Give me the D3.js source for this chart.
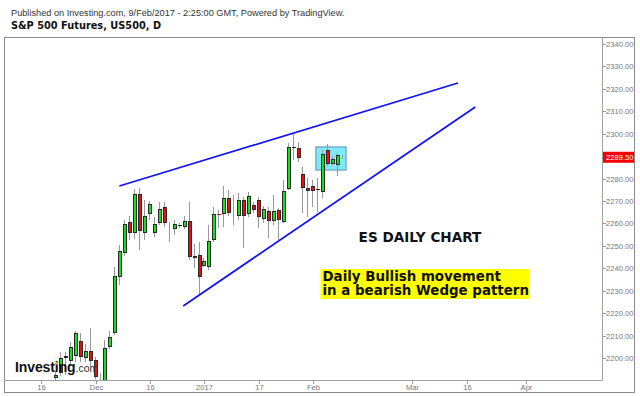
<!DOCTYPE html>
<html><head><meta charset="utf-8">
<script src="https://cdn.jsdelivr.net/npm/d3@7"></script>
<style>html,body{margin:0;padding:0;background:#fff;}svg{display:block}</style>
</head><body>
<svg id="c" width="640" height="396"></svg>
<script>
// ---- data ----
const dates = ["2016-11-21","2016-11-22","2016-11-23","2016-11-24","2016-11-25","2016-11-28","2016-11-29","2016-11-30",
"2016-12-01","2016-12-02","2016-12-05","2016-12-06","2016-12-07","2016-12-08","2016-12-09","2016-12-12","2016-12-13","2016-12-14","2016-12-15","2016-12-16",
"2016-12-19","2016-12-20","2016-12-21","2016-12-22","2016-12-23","2016-12-26","2016-12-27","2016-12-28","2016-12-29","2016-12-30",
"2017-01-02","2017-01-03","2017-01-04","2017-01-05","2017-01-06","2017-01-09","2017-01-10","2017-01-11","2017-01-12","2017-01-13",
"2017-01-16","2017-01-17","2017-01-18","2017-01-19","2017-01-20","2017-01-23","2017-01-24","2017-01-25","2017-01-26","2017-01-27",
"2017-01-30","2017-01-31","2017-02-01","2017-02-02","2017-02-03","2017-02-06","2017-02-07","2017-02-08","2017-02-09"];
const opens = [2191.1,2193.3,2200.9,2198.7,2200.9,2207.6,2200.0,2203.1,
2199.1,2190.9,2189.0,2204.9,2211.2,2236.1,2246.8,2260.7,2255.7,2273.1,2255.7,2264.2,
2255.7,2260.2,2267.3,2258.0,2257.5,2259.1,2258.4,2261.1,2245.5,2245.9,
2241.0,2240.6,2252.6,2264.4,2264.2,2271.4,2264.2,2263.3,2270.5,2264.2,
2268.2,2270.5,2262.0,2265.6,2261.1,2266.0,2260.7,2275.4,2293.9,2293.6,
2282.1,2275.8,2276.7,2275.2,2274.0,2292.7,2286.5,2286.1,2290.1];
const highs = [2194.2,2202.7,2202.7,2207.2,2212.1,2211.2,2206.3,2213.4,
2200.5,2193.3,2208.0,2212.1,2240.6,2250.4,2261.5,2263.3,2275.4,2275.8,2270.5,2270.0,
2262.9,2269.6,2269.6,2260.7,2261.5,2260.2,2263.3,2269.6,2250.8,2251.7,
2244.6,2259.3,2267.3,2266.0,2276.7,2274.9,2272.7,2273.6,2271.8,2274.0,
2269.6,2271.8,2267.8,2267.3,2272.7,2266.9,2279.4,2295.9,2299.9,2296.3,
2285.2,2280.3,2279.4,2280.3,2292.7,2295.4,2290.1,2291.4,2290.7];
const lows = [2189.8,2192.0,2192.5,2196.9,2198.2,2198.2,2198.2,2196.4,
2190.7,2189.5,2188.0,2204.0,2210.3,2232.6,2245.5,2252.6,2253.1,2248.2,2252.6,2261.5,
2254.0,2259.3,2258.4,2251.7,2254.9,2258.0,2257.5,2243.7,2240.1,2228.1,
2240.6,2239.3,2251.7,2258.0,2258.4,2263.3,2259.3,2261.5,2249.1,2262.9,
2264.7,2258.0,2260.2,2253.6,2259.3,2252.6,2260.2,2274.9,2288.3,2287.4,
2264.7,2262.9,2267.3,2265.1,2271.4,2285.6,2285.6,2281.2,2288.9];
const closes = [2192.3,2200.0,2200.0,2204.9,2211.2,2200.5,2203.2,2198.7,
2191.6,2191.5,2204.3,2209.4,2236.6,2247.7,2259.8,2255.7,2273.1,2256.6,2263.3,2268.7,
2259.8,2266.5,2260.2,2258.6,2259.8,2259.1,2261.1,2245.1,2244.8,2236.1,
2243.3,2252.2,2264.2,2264.0,2271.4,2264.6,2263.6,2270.5,2263.3,2272.2,
2266.0,2262.9,2266.4,2261.1,2265.6,2261.5,2274.5,2294.1,2293.9,2289.2,
2275.8,2274.5,2274.5,2275.2,2291.0,2286.5,2288.7,2290.5,2289.5];
const tickDates = ["2016-11-16","2016-12-01","2016-12-16","2017-01-02","2017-01-17","2017-02-01","2017-03-01","2017-03-16","2017-04-03"];
const tickLabels = ["16","Dec","16","2017","17","Feb","Mar","16","Apr"];
const priceTicks = [2200,2210,2220,2230,2240,2250,2260,2270,2280,2300,2310,2320,2330,2340];
const lastPrice = 2289.50;
// drawings (x in trading-day index from 16 Nov 2016, y in price)
const upperX = [15.8, 84.2], upperY = [2276.7, 2322.6];
const lowerX = [28.7, 87.7], lowerY = [2223.2, 2311.9];
const boxX = [55.5, 61.6], boxY = [2283.8, 2294.1];

// ---- helpers ----
function wd(s){
  const base = Date.UTC(2016,10,16);
  const t = Date.parse(s+"T00:00:00Z");
  let n = 0;
  for (let d = base; d < t; d += 86400000){
    const g = new Date(d).getUTCDay();
    if (g !== 0 && g !== 6) n++;
  }
  return n;
}

const svg = d3.select("#c");
const L = 4, R = 602, T = 37, B = 380;
const x = d3.scaleLinear().domain([-7.5, 113.3]).range([L, R]);
const y = d3.scaleLinear().domain([2190.2, 2343.12]).range([B, T]);

svg.append("rect").attr("width",640).attr("height",396).attr("fill","#fff");

// header
svg.append("text").attr("x",11).attr("y",15.6)
  .attr("font-family","Liberation Sans, Arial, sans-serif").attr("font-size",9.2).attr("fill","#333")
  .text("Published on Investing.com, 9/Feb/2017 - 2:25:00 GMT, Powered by TradingView.");
svg.append("text").attr("x",11).attr("y",28.5)
  .attr("font-family","DejaVu Sans, sans-serif").attr("font-weight","bold").attr("font-size",9.8).attr("fill","#111")
  .text("S&P 500 Futures, US500, D");

// clip
svg.append("clipPath").attr("id","pc").append("rect").attr("x",L).attr("y",T).attr("width",R-L).attr("height",B-T);
const plot = svg.append("g").attr("clip-path","url(#pc)");

// box
plot.append("rect")
  .attr("x", x(boxX[0])).attr("y", y(boxY[1]))
  .attr("width", x(boxX[1]) - x(boxX[0])).attr("height", y(boxY[0]) - y(boxY[1]))
  .attr("fill","#80e9f7").attr("stroke","#6d9fc8").attr("stroke-width",1.2);

// candles
const candles = dates.map((d,k)=>({i:wd(d), o:opens[k], h:highs[k], l:lows[k], c:closes[k]}));
const cg = plot.append("g");
candles.forEach(d=>{
  const c = Math.round(x(d.i));
  cg.append("line").attr("x1",c-0.5).attr("x2",c-0.5)
    .attr("y1",Math.round(y(d.h))).attr("y2",Math.round(y(d.l)))
    .attr("stroke","#999").attr("stroke-width",1);
  const top = Math.round(y(Math.max(d.o,d.c))), bot = Math.round(y(Math.min(d.o,d.c)));
  if (bot - top < 1 || d.o === d.c){
    cg.append("line").attr("x1",c-2).attr("x2",c+2).attr("y1",top+0.5).attr("y2",top+0.5)
      .attr("stroke", d.o===d.c ? "#222" : (d.c>d.o?"#00b000":"#e00000")).attr("stroke-width",1);
  } else {
    cg.append("rect").attr("x",c-1.5).attr("y",top+0.5).attr("width",3).attr("height",bot-top-1)
      .attr("fill", d.c>d.o ? "#18e018" : "#ee0c0c").attr("stroke","#2a2a2a").attr("stroke-width",1);
  }
});

// wedge lines
const line = d3.line().x(d=>x(d[0])).y(d=>y(d[1]));
plot.append("path").attr("d", line(d3.zip(upperX, upperY))).attr("stroke","#1010ff").attr("stroke-width",1.7).attr("fill","none");
plot.append("path").attr("d", line(d3.zip(lowerX, lowerY))).attr("stroke","#1010ff").attr("stroke-width",1.7).attr("fill","none");

// frame
svg.append("rect").attr("x",4.5).attr("y",37.5).attr("width",630).attr("height",355).attr("fill","none").attr("stroke","#8a8a8a");
svg.append("line").attr("x1",R+0.5).attr("x2",R+0.5).attr("y1",T).attr("y2",B+0.5).attr("stroke","#a0a0a0");
svg.append("line").attr("x1",L).attr("x2",R+0.5).attr("y1",B+0.5).attr("y2",B+0.5).attr("stroke","#a0a0a0");

// y axis
const ya = svg.append("g");
priceTicks.forEach(p=>{
  const yy = Math.round(y(p)) + 0.5;
  ya.append("line").attr("x1",R+1).attr("x2",R+4).attr("y1",yy).attr("y2",yy).attr("stroke","#999");
  ya.append("text").attr("x",606).attr("y",yy+2.8)
    .attr("font-family","Liberation Sans, Arial, sans-serif").attr("font-size",7.6).attr("fill","#777")
    .text(d3.format(".2f")(p));
});
const ly = y(lastPrice);
svg.append("rect").attr("x",603).attr("y",ly-5.5).attr("width",31).attr("height",11).attr("fill","#f40000");
svg.append("text").attr("x",606).attr("y",ly+2.8)
  .attr("font-family","Liberation Sans, Arial, sans-serif").attr("font-size",7.6).attr("fill","#fff")
  .text(d3.format(".2f")(lastPrice));

// x axis
tickDates.forEach((d,k)=>{
  const xx = Math.round(x(wd(d))) + 0.5;
  svg.append("line").attr("x1",xx).attr("x2",xx).attr("y1",B+1).attr("y2",B+4).attr("stroke","#999");
  svg.append("text").attr("x",xx).attr("y",389.5).attr("text-anchor","middle")
    .attr("font-family","Liberation Sans, Arial, sans-serif").attr("font-size",7.6).attr("fill","#777")
    .text(tickLabels[k]);
});

// annotations
svg.append("text").attr("x",420).attr("y",241.7).attr("text-anchor","middle")
  .attr("font-family","DejaVu Sans, Verdana, sans-serif").attr("font-weight","bold").attr("font-size",13.6).attr("fill","#111")
  .text("ES DAILY CHART");
svg.append("rect").attr("x",320.5).attr("y",269).attr("width",209).attr("height",30).attr("fill","#ffff00");
const ann = svg.append("text").attr("font-family","DejaVu Sans, Verdana, sans-serif").attr("font-weight","bold")
  .attr("font-size",13.4).attr("fill","#111");
ann.append("tspan").attr("x",322.5).attr("y",281).text("Daily Bullish movement");
ann.append("tspan").attr("x",322.5).attr("y",294.5).text("in a bearish Wedge pattern");

// logo
const lg = svg.append("text").attr("x",15).attr("y",372.3)
  .attr("font-family","Liberation Sans, Arial, sans-serif").attr("fill","#111");
lg.append("tspan").attr("font-weight","bold").attr("font-size",14).attr("letter-spacing",-0.1).text("Investing");
lg.append("tspan").attr("font-size",10.5).attr("fill","#333").text(".com");
// orange dot on the "i"
const tn = lg.select("tspan").node();
try {
  const ext = tn.getExtentOfChar(6);
  svg.append("circle").attr("cx", ext.x + ext.width/2 - 0.1).attr("cy", 372.3 - 9.0).attr("r",1.5).attr("fill","#f7a21b");
} catch(e){}
</script>
</body></html>
